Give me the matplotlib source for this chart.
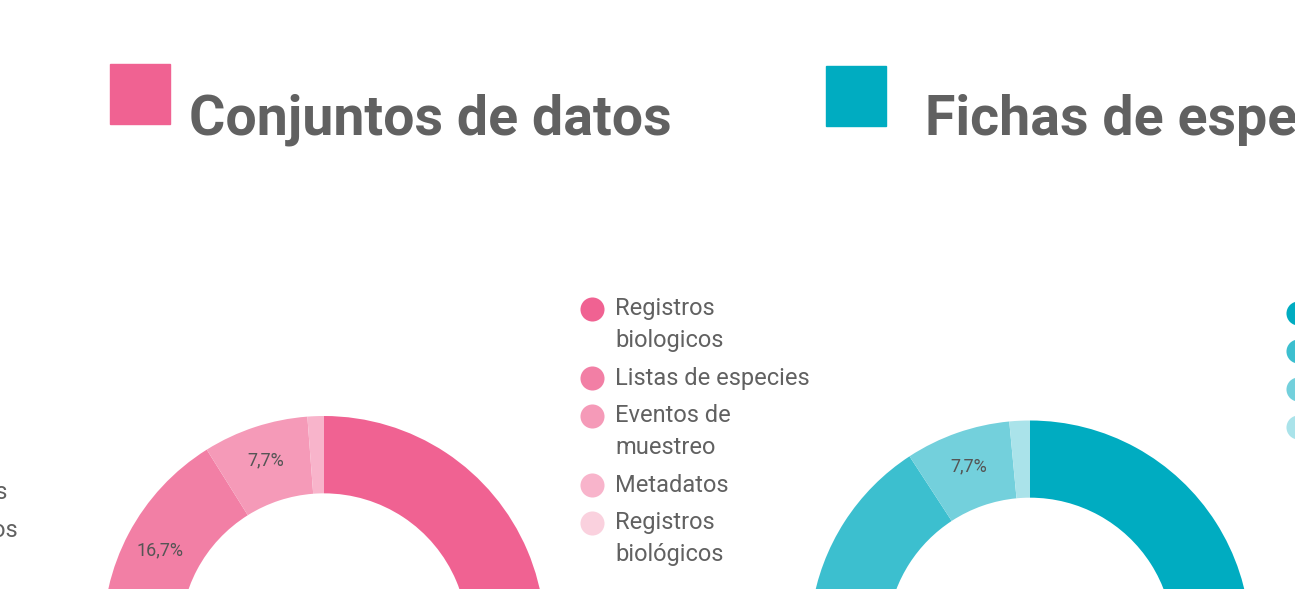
import textwrap
import matplotlib
matplotlib.use("Agg")
import matplotlib.pyplot as plt
from matplotlib.patches import Rectangle

plt.rcParams['font.family'] = ['Roboto', 'DejaVu Sans']

# ── Data ──────────────────────────────────────────────────────────────────────
left_title   = "Conjuntos de datos"
left_labels  = ["Registros biologicos", "Listas de especies", "Eventos de muestreo",
                "Metadatos", "Registros biológicos"]
left_values  = [74.4, 16.7, 7.7, 1.2, 0.0]
left_colors  = ["#f06292", "#f27fa5", "#f59ab8", "#f8b4cb", "#fad1de"]

right_title  = "Fichas de especies"
right_labels = ["Fichas completas", "Fichas básicas", "Fichas en edición", "Borradores"]
right_values = [63.9, 26.9, 7.7, 1.5]
right_colors = ["#00acc1", "#3cbfcf", "#73d0dc", "#aae3ea"]

# tail of the previous panel's legend (cut by the left edge)
prev_labels  = ["Especies", "Registros"]

TEXT   = "#616161"
W, H   = 1295, 589
HOLE   = 0.65


def pct(p):
    return f"{p:.1f}%".replace(".", ",") if p >= 5 else ""


fig = plt.figure(figsize=(W / 100, H / 100), dpi=100)
fig.patch.set_facecolor("white")
ov = fig.add_axes([0, 0, 1, 1])
ov.set_xlim(0, W)
ov.set_ylim(H, 0)
ov.axis("off")


def donut(cx, cy, r, values, colors):
    ax = fig.add_axes([(cx - r) / W, (H - cy - r) / H, 2 * r / W, 2 * r / H])
    ax.pie(values, colors=colors, startangle=90, counterclock=False,
           wedgeprops=dict(width=1 - HOLE, linewidth=0),
           autopct=pct, pctdistance=0.84,
           textprops=dict(color="#555555", fontsize=13))
    ax.set_xlim(-1, 1)
    ax.set_ylim(-1, 1)
    ax.set_zorder(0)


def header(x_sq, y_sq, x_txt, title, color):
    ov.add_patch(Rectangle((x_sq, y_sq), 60, 60, color=color))
    ov.text(x_txt, 135, title, fontsize=40, fontweight="bold", color=TEXT,
            va="baseline", ha="left")


def legend(x, y, labels, colors):
    for lab, col in zip(labels, colors):
        ov.scatter([x], [y], s=300, color=col, linewidths=0, zorder=3)
        lines = textwrap.wrap(lab, 18)
        for i, line in enumerate(lines):
            ov.text(x + 23, y + i * 31, line, fontsize=17, color=TEXT,
                    va="center", ha="left")
        y += 38 + 31 * (len(lines) - 1)


header(110, 64, 189, left_title, left_colors[0])
header(826, 66, 925, right_title, right_colors[0])

donut(324, 637, 221, left_values, left_colors)
donut(1030, 641, 220.5, right_values, right_colors)

legend(592, 309, left_labels, left_colors)
legend(1298, 313, right_labels, right_colors)

for i, lab in enumerate(prev_labels):
    ov.text(7 + 11 * i, 492 + 38 * i, lab, fontsize=17, color=TEXT,
            va="center", ha="right")

ov.set_zorder(1)
ov.patch.set_alpha(0)

fig.savefig("out.png", dpi=100, facecolor="white")
